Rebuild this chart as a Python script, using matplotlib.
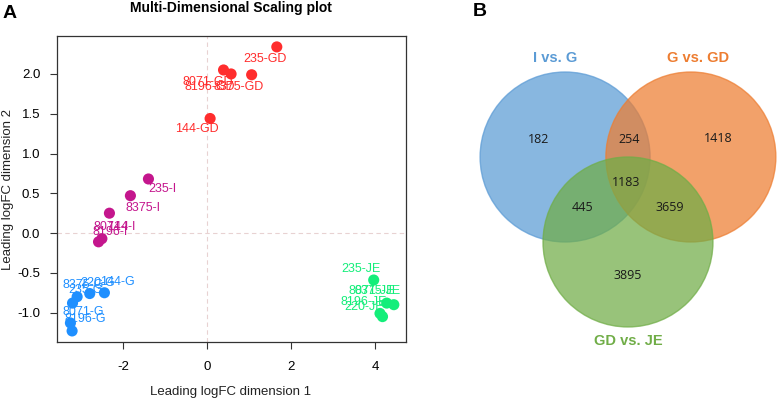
import matplotlib.pyplot as plt
from matplotlib.patches import Circle

plt.rcParams['font.family'] = ['Liberation Sans', 'DejaVu Sans']
plt.rcParams['axes.unicode_minus'] = False

# MDS coordinates of each sample (dimension 1, dimension 2)
gd_names = ['235-GD', '8071-GD', '8196-GD', '8375-GD', '144-GD']
gd_x = [1.66, 0.39, 0.57, 1.06, 0.07]
gd_y = [2.34, 2.05, 2.00, 1.99, 1.44]
gd_lx = [1.38, 0.01, 0.05, 0.74, -0.24]
gd_ly = [2.19, 1.90, 1.84, 1.84, 1.31]

i_names = ['235-I', '8375-I', '144-I', '8071-I', '8196-I']
i_x = [-1.40, -1.83, -2.33, -2.51, -2.59]
i_y = [0.68, 0.47, 0.25, -0.07, -0.11]
i_lx = [-1.07, -1.53, -2.05, -2.29, -2.31]
i_ly = [0.55, 0.32, 0.08, 0.08, 0.01]

g_names = ['235-G', '8375-G', '220-G', '144-G', '8071-G', '8196-G']
g_x = [-3.21, -3.10, -2.80, -2.45, -3.26, -3.22]
g_y = [-0.88, -0.80, -0.76, -0.75, -1.13, -1.23]
g_lx = [-2.90, -2.95, -2.60, -2.14, -2.95, -2.90]
g_ly = [-0.72, -0.65, -0.63, -0.62, -0.99, -1.08]

je_names = ['235-JE', '8071-JE', '8375-JE', '8196-JE', '220-JE']
je_x = [3.97, 4.28, 4.45, 4.12, 4.18]
je_y = [-0.59, -0.88, -0.90, -1.01, -1.05]
je_lx = [3.66, 3.93, 4.07, 3.74, 3.74]
je_ly = [-0.45, -0.73, -0.73, -0.87, -0.93]

# Venn counts
venn_sets = ['I vs. G', 'G vs. GD', 'GD vs. JE']
only_ig, only_ggd, only_gdje = 182, 1418, 3895
ig_ggd, ig_gdje, ggd_gdje, all_three = 254, 445, 3659, 1183

fig = plt.figure(figsize=(7.78, 4.0), dpi=100)

# ---- Panel A: MDS plot
ax = fig.add_axes([57 / 778, 1 - 342 / 400, (406 - 57) / 778, (342 - 36) / 400])
ax.set_xlim(-3.58, 4.74)
ax.set_ylim(-1.369, 2.477)
ax.axvline(0, color='#e8d2d2', lw=0.8, ls=(0, (4, 3)), zorder=0)
ax.axhline(0, color='#e8d2d2', lw=0.8, ls=(0, (4, 3)), zorder=0)

groups = [
    (gd_names, gd_x, gd_y, gd_lx, gd_ly, '#ff2d2d'),
    (i_names, i_x, i_y, i_lx, i_ly, '#c4168d'),
    (g_names, g_x, g_y, g_lx, g_ly, '#1e8fff'),
    (je_names, je_x, je_y, je_lx, je_ly, '#14ee7a'),
]
for names, xs, ys, lxs, lys, col in groups:
    for n, lx, ly in zip(names, lxs, lys):
        ax.text(lx, ly, n, color=col, fontsize=9, ha='center', va='center',
                zorder=2)
    ax.scatter(xs, ys, s=64, color=col, edgecolors='none', zorder=3)

ax.set_xticks([-2, 0, 2, 4])
ax.set_yticks([-1.0, -0.5, 0.0, 0.5, 1.0, 1.5, 2.0])
ax.set_yticklabels(['-1.0', '-0.5', '0.0', '0.5', '1.0', '1.5', '2.0'])
ax.tick_params(length=5, width=0.8, labelsize=9.5, color='#333333')
ax.tick_params(axis='x', pad=9)
ax.tick_params(axis='y', pad=7)
for s in ax.spines.values():
    s.set_color('#333333')
    s.set_linewidth(0.9)

fig.text(231 / 778, 1 - 392 / 400, 'Leading logFC dimension 1', fontsize=9.5,
         ha='center', va='center', color='#222222')
fig.text(8 / 778, 1 - 189 / 400, 'Leading logFC dimension 2', fontsize=9.5,
         ha='center', va='center', rotation=90, color='#222222')
fig.text(231 / 778, 1 - 8 / 400, 'Multi-Dimensional Scaling plot', fontsize=10,
         fontweight='bold', ha='center', va='center')
fig.text(10 / 778, 1 - 13 / 400, 'A', fontsize=14, fontweight='bold',
         ha='center', va='center')

# ---- Panel B: Venn diagram (unit = circle radius, 85 px)
vx = fig.add_axes([420 / 778, 0, 358 / 778, 1])
vx.set_xlim(-2.447, 1.765)
vx.set_ylim(-2.859, 1.847)
vx.axis('off')

centers = [(-0.74, 0.0), (0.74, 0.0), (0.0, -1.0)]
fills = ['#5b9bd5', '#ed7d31', '#70ad47']
for (cx, cy), c in zip(centers, fills):
    vx.add_patch(Circle((cx, cy), 1.0, facecolor=c, alpha=0.72,
                        edgecolor=c, lw=1.0))

counts = [only_ig, ig_ggd, only_ggd, all_three, ig_gdje, ggd_gdje, only_gdje]
spots = [(-1.05, 0.21), (0.02, 0.21), (1.06, 0.22), (-0.02, -0.30),
         (-0.53, -0.60), (0.49, -0.60), (0.0, -1.40)]
for v, (px, py) in zip(counts, spots):
    vx.text(px, py, str(v), fontsize=9, ha='center', va='center',
            color='#1a1a1a', family=['Open Sans', 'DejaVu Sans'])

set_spots = [(-0.86, 1.17), (0.83, 1.17), (0.0, -2.17)]
for name, (px, py), c in zip(venn_sets, set_spots, fills):
    vx.text(px, py, name, fontsize=10.5, fontweight='bold', color=c,
            ha='center', va='center')

fig.text(480 / 778, 1 - 12 / 400, 'B', fontsize=14, fontweight='bold',
         ha='center', va='center')

fig.savefig('out.png', dpi=100)
